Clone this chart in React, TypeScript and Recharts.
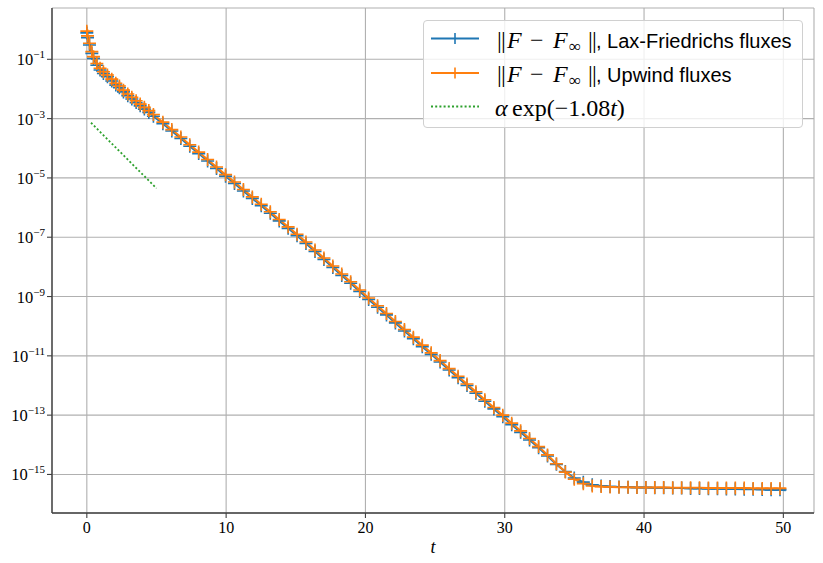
import React from 'react'
import { LineChart, Line, XAxis, YAxis, CartesianGrid } from 'recharts'

// time of each stored output (last one is the end of the run, drawn without a marker)
const tVals = [
  0, 0.05, 0.19, 0.36, 0.48, 0.72, 0.95, 1.19, 1.48, 1.79,
  2.08, 2.34, 2.63, 2.94, 3.23, 3.54, 3.83, 4.13, 4.45, 4.78,
  5.46, 6.1, 6.75, 7.39, 8.03, 8.67, 9.31, 9.96, 10.6, 11.24,
  11.88, 12.52, 13.17, 13.81, 14.45, 15.09, 15.73, 16.38, 17.02, 17.66,
  18.3, 18.94, 19.59, 20.23, 20.87, 21.51, 22.15, 22.8, 23.44, 24.08,
  24.72, 25.36, 26.01, 26.65, 27.29, 27.93, 28.57, 29.22, 29.86, 30.5,
  31.14, 31.78, 32.43, 33.07, 33.71, 34.35, 34.99, 35.64, 36.28, 36.92,
  37.56, 38.2, 38.85, 39.49, 40.13, 40.77, 41.41, 42.06, 42.7, 43.34,
  43.98, 44.62, 45.27, 45.91, 46.55, 47.19, 47.83, 48.48, 49.12, 49.76,
  50.17,
]

// log10 ||F - F_inf||, Lax-Friedrichs fluxes
const lfExp = [
  -0.11, -0.27, -0.52, -0.8, -0.97, -1.2, -1.36, -1.48, -1.59, -1.73,
  -1.87, -1.96, -2.1, -2.23, -2.34, -2.46, -2.57, -2.68, -2.79, -2.92,
  -3.17, -3.42, -3.67, -3.93, -4.18, -4.43, -4.68, -4.94, -5.19, -5.44,
  -5.69, -5.94, -6.19, -6.45, -6.7, -6.95, -7.21, -7.48, -7.75, -8.02,
  -8.29, -8.55, -8.83, -9.1, -9.36, -9.62, -9.89, -10.16, -10.42, -10.69,
  -10.95, -11.21, -11.48, -11.74, -12.0, -12.26, -12.53, -12.79, -13.05, -13.32,
  -13.58, -13.84, -14.1, -14.38, -14.66, -14.9, -15.12, -15.26, -15.35, -15.39,
  -15.41, -15.42, -15.43, -15.44, -15.44, -15.45, -15.45, -15.46, -15.46, -15.47,
  -15.47, -15.48, -15.48, -15.49, -15.49, -15.5, -15.5, -15.51, -15.52, -15.52,
  -15.53,
]

// log10 ||F - F_inf||, upwind fluxes
const upExp = [
  -0.05, -0.21, -0.46, -0.74, -0.91, -1.14, -1.3, -1.42, -1.53, -1.67,
  -1.81, -1.9, -2.04, -2.17, -2.28, -2.4, -2.51, -2.62, -2.73, -2.86,
  -3.12, -3.37, -3.62, -3.88, -4.13, -4.38, -4.63, -4.89, -5.14, -5.39,
  -5.64, -5.89, -6.14, -6.4, -6.65, -6.9, -7.16, -7.43, -7.7, -7.97,
  -8.24, -8.5, -8.78, -9.05, -9.31, -9.57, -9.84, -10.11, -10.37, -10.64,
  -10.9, -11.16, -11.43, -11.69, -11.95, -12.21, -12.48, -12.74, -13.0, -13.27,
  -13.53, -13.79, -14.06, -14.34, -14.64, -14.92, -15.16, -15.31, -15.39, -15.41,
  -15.42, -15.43, -15.43, -15.44, -15.44, -15.44, -15.44, -15.45, -15.45, -15.45,
  -15.45, -15.46, -15.46, -15.46, -15.46, -15.46, -15.47, -15.47, -15.47, -15.47,
  -15.47,
]

// reference slope alpha*exp(-1.08 t)
const refT = [0.3, 1, 2, 3, 4, 5]
const refExp = [-3.14, -3.47, -3.94, -4.41, -4.88, -5.35]

const xTicks = [0, 10, 20, 30, 40, 50]
const yTicks = [1e-1, 1e-3, 1e-5, 1e-7, 1e-9, 1e-11, 1e-13, 1e-15]

const BLUE = '#1f77b4'
const ORANGE = '#ff7f0e'
const GREEN = '#2ca02c'
const AXIS = '#404040'
const SERIF = '"Liberation Serif", "DejaVu Serif", serif'
const SANS = '"Liberation Sans", "DejaVu Sans", sans-serif'

const rows = tVals.map((t, i) => ({ t, lf: 10 ** lfExp[i], up: 10 ** upExp[i] }))
const refRows = refT.map((t, i) => ({ t, alpha: 10 ** refExp[i] }))
const lastMarked = tVals.length - 2

const plusDot = (color: string) => (props: any) => {
  const { cx, cy, index } = props
  if (index > lastMarked || cx == null || cy == null) return <g key={`p${index}`} />
  return (
    <path
      key={`p${index}`}
      d={`M${cx - 6.5},${cy}H${cx + 6.5}M${cx},${cy - 6.5}V${cy + 6.5}`}
      stroke={color}
      strokeWidth={1.6}
      fill="none"
    />
  )
}

const XTick = ({ x, y, payload }: any) => (
  <text x={x} y={y + 13} textAnchor="middle" fontFamily={SERIF} fontSize={16} fill="#000">
    {payload.value}
  </text>
)

const YTick = ({ x, y, payload }: any) => {
  const e = Math.round(Math.log10(payload.value))
  return (
    <text x={x} y={y + 6} textAnchor="end" fontFamily={SERIF} fill="#000">
      <tspan fontSize={16.5}>10</tspan>
      <tspan fontSize={11} dy={-7}>{`\u2212${-e}`}</tspan>
    </text>
  )
}

// ||F - F_inf|| set in math style, left edge at legend x = 73
const NormLabel = ({ y, rest }: { y: number, rest: string }) => (
  <text y={y} fontSize={24} fill="#000" fontFamily={SERIF}>
    <tspan x={73}>|</tspan>
    <tspan x={77}>|</tspan>
    <tspan x={83} fontStyle="italic">F</tspan>
    <tspan x={106}>{'\u2212'}</tspan>
    <tspan x={129} fontStyle="italic">F</tspan>
    <tspan x={145} fontSize={17} dy={4}>{'\u221e'}</tspan>
    <tspan x={164} dy={-4}>|</tspan>
    <tspan x={168}>|</tspan>
    <tspan x={172} fontFamily={SANS} fontSize={20}>{`, ${rest}`}</tspan>
  </text>
)

function LegendBox() {
  const rowsY = [17.5, 52, 85.5]
  const sample = (y: number, color: string, dotted = false, marker = true) => (
    <g>
      <line x1={7} x2={55} y1={y} y2={y} stroke={color} strokeWidth={dotted ? 1.8 : 2}
        strokeDasharray={dotted ? '2 2.2' : undefined} />
      {marker && <path d={`M31,${y - 5.5}V${y + 5.5}`} stroke={color} strokeWidth={1.6} />}
    </g>
  )
  return (
    <div style={{
      position: 'absolute', left: 423, top: 20, width: 380, height: 108,
      border: '1px solid #d0d0d0', borderRadius: 4, background: 'rgba(255,255,255,0.8)',
      boxSizing: 'border-box',
    }}>
      <svg width={378} height={106} style={{ display: 'block' }}>
        {sample(rowsY[0], BLUE)}
        {sample(rowsY[1], ORANGE)}
        {sample(rowsY[2], GREEN, true, false)}
        <NormLabel y={rowsY[0] + 9} rest="Lax-Friedrichs fluxes" />
        <NormLabel y={rowsY[1] + 9} rest="Upwind fluxes" />
        <text y={rowsY[2] + 9} fontSize={24} fill="#000" fontFamily={SERIF}>
          <tspan x={71} fontStyle="italic">{'\u03b1'}</tspan>
          <tspan x={88}>{'exp(\u22121.08'}</tspan>
          <tspan fontStyle="italic">t</tspan>
          <tspan>)</tspan>
        </text>
      </svg>
    </div>
  )
}

export default function App() {
  const xDomain = [-2.5, 52.2]
  const yDomain = [10 ** -16.3, 10 ** 0.73]
  return (
    <div style={{ position: 'absolute', left: 0, top: 0, width: 823, height: 563, background: '#fff' }}>
      <LineChart width={823} height={563} data={rows} margin={{ top: 8, right: 9, bottom: 0, left: 0 }}>
        <CartesianGrid stroke="#b0b0b0" strokeWidth={1.1} />
        <XAxis
          dataKey="t"
          type="number"
          domain={xDomain}
          allowDataOverflow
          ticks={xTicks}
          tick={<XTick />}
          height={50}
          axisLine={{ stroke: AXIS, strokeWidth: 1.4 }}
          tickLine={{ stroke: AXIS, strokeWidth: 1.1 }}
          tickSize={5}
          label={{ value: 't', position: 'insideBottom', offset: 10, style: { fontFamily: SERIF, fontStyle: 'italic', fontSize: 18, fill: '#000' } }}
        />
        <XAxis
          xAxisId="top"
          orientation="top"
          type="number"
          domain={xDomain}
          allowDataOverflow
          height={0}
          tick={false}
          tickLine={false}
          axisLine={{ stroke: AXIS, strokeWidth: 1.4 }}
        />
        <YAxis
          scale="log"
          type="number"
          domain={yDomain}
          allowDataOverflow
          ticks={yTicks}
          tick={<YTick />}
          width={52}
          axisLine={{ stroke: AXIS, strokeWidth: 1.4 }}
          tickLine={{ stroke: AXIS, strokeWidth: 1.1 }}
          tickSize={5}
        />
        <YAxis
          yAxisId="right"
          orientation="right"
          width={0}
          tick={false}
          tickLine={false}
          axisLine={{ stroke: AXIS, strokeWidth: 1.4 }}
        />
        <Line
          type="linear"
          dataKey="lf"
          stroke={BLUE}
          strokeWidth={2}
          dot={plusDot(BLUE)}
          activeDot={false}
          isAnimationActive={false}
        />
        <Line
          type="linear"
          dataKey="up"
          stroke={ORANGE}
          strokeWidth={2}
          dot={plusDot(ORANGE)}
          activeDot={false}
          isAnimationActive={false}
        />
        <Line
          type="linear"
          data={refRows}
          dataKey="alpha"
          stroke={GREEN}
          strokeWidth={1.8}
          strokeDasharray="2 2.2"
          dot={false}
          activeDot={false}
          isAnimationActive={false}
        />
      </LineChart>
      <LegendBox />
    </div>
  )
}
